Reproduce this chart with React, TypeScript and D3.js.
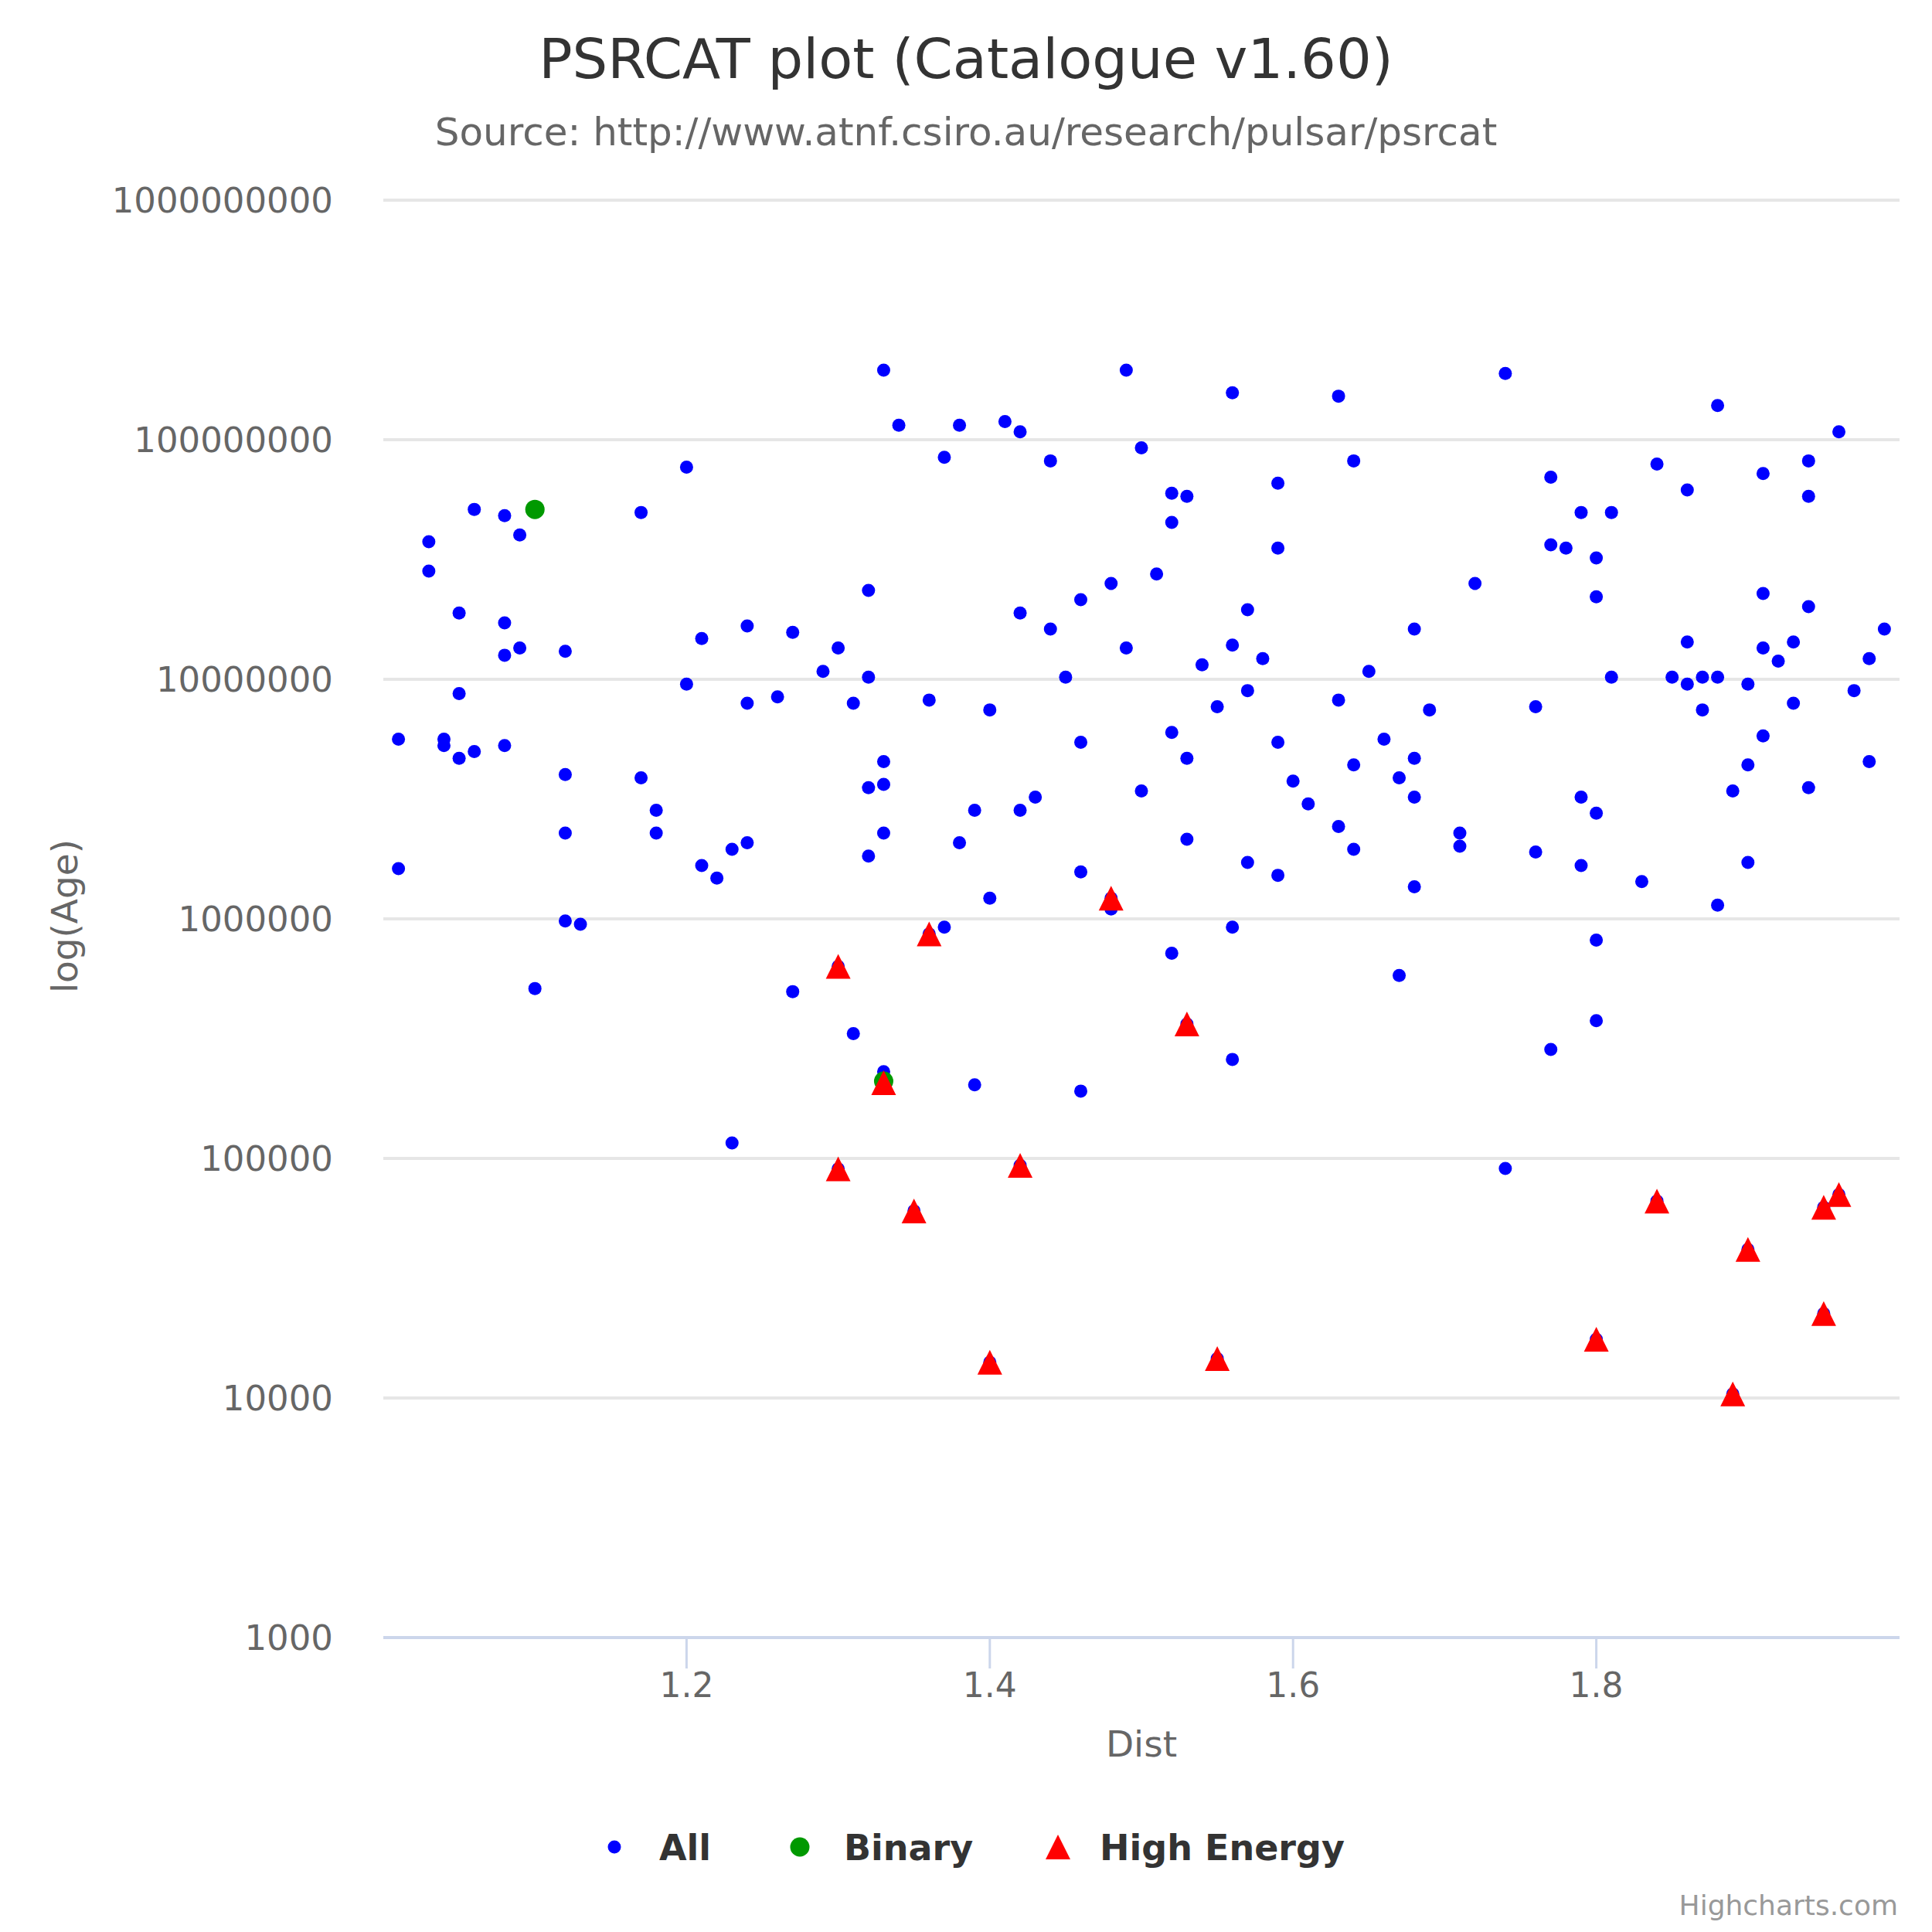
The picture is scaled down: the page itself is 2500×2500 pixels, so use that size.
import React, { useRef, useEffect } from 'react';
import * as d3 from 'd3';

// Pulsars that are neither binary nor high energy: [distance, age]
const otherPulsars: [number, number][] = [
  [1.01, 5.62e6], [1.01, 1.62e6],
  [1.03, 3.75e7], [1.03, 2.83e7],
  [1.04, 5.62e6], [1.04, 5.29e6],
  [1.05, 1.89e7], [1.05, 8.71e6], [1.05, 4.68e6],
  [1.06, 5.12e7], [1.06, 4.99e6],
  [1.08, 4.82e7], [1.08, 1.72e7], [1.08, 1.26e7], [1.08, 5.29e6],
  [1.09, 4.0e7], [1.09, 1.35e7],
  [1.10, 5.12e5],
  [1.12, 1.31e7], [1.12, 4.0e6], [1.12, 2.28e6], [1.12, 9.8e5],
  [1.13, 9.5e5],
  [1.17, 4.97e7], [1.17, 3.88e6],
  [1.18, 2.84e6], [1.18, 2.28e6],
  [1.20, 7.68e7], [1.20, 9.54e6],
  [1.21, 1.48e7], [1.21, 1.67e6],
  [1.22, 1.48e6],
  [1.23, 1.95e6], [1.23, 1.16e5],
  [1.24, 1.67e7], [1.24, 7.94e6], [1.24, 2.08e6],
  [1.26, 8.45e6],
  [1.27, 1.57e7], [1.27, 4.97e5],
  [1.29, 1.08e7],
  [1.30, 1.35e7],
  [1.31, 7.94e6], [1.31, 3.32e5],
  [1.32, 2.35e7], [1.32, 1.02e7], [1.32, 3.53e6], [1.32, 1.83e6],
  [1.33, 1.95e8], [1.33, 4.53e6], [1.33, 3.64e6], [1.33, 2.28e6], [1.33, 2.30e5],
  [1.34, 1.15e8],
  [1.36, 8.19e6],
  [1.37, 8.45e7], [1.37, 9.23e5],
  [1.38, 1.15e8], [1.38, 2.08e6],
  [1.39, 2.84e6], [1.39, 2.03e5],
  [1.40, 7.45e6], [1.40, 1.22e6],
  [1.41, 1.19e8],
  [1.42, 1.08e8], [1.42, 1.89e7], [1.42, 2.84e6],
  [1.43, 3.22e6],
  [1.44, 8.16e7], [1.44, 1.62e7],
  [1.45, 1.02e7],
  [1.46, 2.15e7], [1.46, 5.46e6], [1.46, 1.57e6], [1.46, 1.91e5],
  [1.48, 2.51e7], [1.48, 1.1e6],
  [1.49, 1.95e8], [1.49, 1.35e7],
  [1.50, 9.25e7], [1.50, 3.42e6],
  [1.51, 2.75e7],
  [1.52, 5.98e7], [1.52, 4.52e7], [1.52, 6.0e6], [1.52, 7.19e5],
  [1.53, 5.8e7], [1.53, 4.68e6], [1.53, 2.15e6],
  [1.54, 1.15e7],
  [1.55, 7.68e6],
  [1.56, 1.57e8], [1.56, 1.39e7], [1.56, 9.23e5], [1.56, 2.59e5],
  [1.57, 1.95e7], [1.57, 8.97e6], [1.57, 1.72e6],
  [1.58, 1.22e7],
  [1.59, 6.58e7], [1.59, 3.53e7], [1.59, 5.46e6], [1.59, 1.52e6],
  [1.60, 3.76e6],
  [1.61, 3.02e6],
  [1.63, 1.52e8], [1.63, 8.19e6], [1.63, 2.43e6],
  [1.64, 8.16e7], [1.64, 4.39e6], [1.64, 1.95e6],
  [1.65, 1.08e7],
  [1.66, 5.62e6],
  [1.67, 3.88e6], [1.67, 5.8e5],
  [1.68, 1.62e7], [1.68, 4.68e6], [1.68, 3.22e6], [1.68, 1.36e6],
  [1.69, 7.45e6],
  [1.71, 2.28e6], [1.71, 2.01e6],
  [1.72, 2.51e7],
  [1.74, 1.89e8], [1.74, 9.08e4],
  [1.76, 7.68e6], [1.76, 1.90e6],
  [1.77, 6.98e7], [1.77, 3.64e7], [1.77, 2.85e5],
  [1.78, 3.53e7],
  [1.79, 4.97e7], [1.79, 3.22e6], [1.79, 1.67e6],
  [1.80, 3.21e7], [1.80, 2.21e7], [1.80, 2.76e6], [1.80, 8.15e5], [1.80, 3.76e5],
  [1.81, 4.97e7], [1.81, 1.02e7],
  [1.83, 1.43e6],
  [1.84, 7.92e7],
  [1.85, 1.02e7],
  [1.86, 6.17e7], [1.86, 1.43e7], [1.86, 9.54e6],
  [1.87, 1.02e7], [1.87, 7.45e6],
  [1.88, 1.39e8], [1.88, 1.02e7], [1.88, 1.14e6],
  [1.89, 3.42e6],
  [1.90, 9.54e6], [1.90, 4.39e6], [1.90, 1.72e6],
  [1.91, 7.23e7], [1.91, 2.28e7], [1.91, 1.35e7], [1.91, 5.8e6],
  [1.92, 1.19e7],
  [1.93, 1.43e7], [1.93, 7.94e6],
  [1.94, 8.16e7], [1.94, 5.8e7], [1.94, 2.01e7], [1.94, 3.53e6],
  [1.96, 1.08e8],
  [1.97, 8.97e6],
  [1.98, 1.22e7], [1.98, 4.53e6],
  [1.99, 1.62e7],
];

const binaryPulsars: [number, number][] = [
  [1.10, 5.12e7],
  [1.33, 2.10e5],
];

const highEnergyPulsars: [number, number][] = [
  [1.30, 6.33e5], [1.30, 9.04e4],
  [1.33, 2.07e5],
  [1.35, 6.04e4],
  [1.36, 8.65e5],
  [1.40, 1.41e4],
  [1.42, 9.36e4],
  [1.48, 1.22e6],
  [1.53, 3.64e5],
  [1.55, 1.46e4],
  [1.80, 1.76e4],
  [1.84, 6.64e4],
  [1.89, 1.04e4],
  [1.90, 4.17e4],
  [1.95, 6.25e4], [1.95, 2.25e4],
  [1.96, 7.07e4],
];

// "All" holds every pulsar, the other two series are drawn over it
const allPulsars: [number, number][] = [...otherPulsars, ...binaryPulsars, ...highEnergyPulsars];

const distTicks = [1.2, 1.4, 1.6, 1.8];
const ageTicks = [1e3, 1e4, 1e5, 1e6, 1e7, 1e8, 1e9];

const WIDTH = 2500;
const HEIGHT = 2500;
const margin = { top: 259, right: 42, bottom: 381, left: 496 };
const FONT = '"DejaVu Sans", Verdana, sans-serif';

const trianglePath = (x: number, y: number, r: number) => {
  const p = d3.path();
  p.moveTo(x, y - r);
  p.lineTo(x + r, y + r);
  p.lineTo(x - r, y + r);
  p.closePath();
  return p.toString();
};

const App = () => {
  const svgRef = useRef<SVGSVGElement>(null);

  useEffect(() => {
    if (!svgRef.current) return;
    const svg = d3.select(svgRef.current);
    svg.selectAll('*').remove();

    const innerW = WIDTH - margin.left - margin.right;
    const innerH = HEIGHT - margin.top - margin.bottom;

    const x = d3.scaleLinear().domain([1.0, 2.0]).range([margin.left, margin.left + innerW]);
    const y = d3.scaleLog().domain([1e3, 1e9]).range([margin.top + innerH, margin.top]);

    svg.append('rect').attr('width', WIDTH).attr('height', HEIGHT).attr('fill', '#ffffff');

    // Title and subtitle
    svg.append('text')
      .attr('x', WIDTH / 2)
      .attr('y', 101)
      .attr('text-anchor', 'middle')
      .style('font-family', FONT)
      .style('font-size', '72px')
      .style('fill', '#333333')
      .text('PSRCAT plot (Catalogue v1.60)');

    svg.append('text')
      .attr('x', WIDTH / 2)
      .attr('y', 188)
      .attr('text-anchor', 'middle')
      .style('font-family', FONT)
      .style('font-size', '50px')
      .style('fill', '#666666')
      .text('Source: http://www.atnf.csiro.au/research/pulsar/psrcat');

    // Horizontal grid lines and y labels
    const grid = svg.append('g');
    grid.selectAll('line')
      .data(ageTicks)
      .enter()
      .append('line')
      .attr('x1', margin.left)
      .attr('x2', margin.left + innerW)
      .attr('y1', d => y(d))
      .attr('y2', d => y(d))
      .attr('stroke', '#e6e6e6')
      .attr('stroke-width', 4);

    grid.selectAll('text')
      .data(ageTicks)
      .enter()
      .append('text')
      .attr('x', 431)
      .attr('y', d => y(d) + 16)
      .attr('text-anchor', 'end')
      .style('font-family', FONT)
      .style('font-size', '45px')
      .style('fill', '#666666')
      .text(d => String(d));

    // X axis line, ticks and labels
    const xAxis = svg.append('g');
    xAxis.append('line')
      .attr('x1', margin.left)
      .attr('x2', margin.left + innerW)
      .attr('y1', margin.top + innerH)
      .attr('y2', margin.top + innerH)
      .attr('stroke', '#ccd6eb')
      .attr('stroke-width', 4);

    xAxis.selectAll('.tick')
      .data(distTicks)
      .enter()
      .append('line')
      .attr('class', 'tick')
      .attr('x1', d => x(d))
      .attr('x2', d => x(d))
      .attr('y1', margin.top + innerH)
      .attr('y2', margin.top + innerH + 40)
      .attr('stroke', '#ccd6eb')
      .attr('stroke-width', 3);

    xAxis.selectAll('.label')
      .data(distTicks)
      .enter()
      .append('text')
      .attr('class', 'label')
      .attr('x', d => x(d))
      .attr('y', 2196)
      .attr('text-anchor', 'middle')
      .style('font-family', FONT)
      .style('font-size', '44px')
      .style('fill', '#666666')
      .text(d => d3.format('.1f')(d));

    // Axis titles
    svg.append('text')
      .attr('x', margin.left + innerW / 2)
      .attr('y', 2273)
      .attr('text-anchor', 'middle')
      .style('font-family', FONT)
      .style('font-size', '47px')
      .style('fill', '#666666')
      .text('Dist');

    svg.append('text')
      .attr('transform', `translate(100, ${(252 + margin.top + innerH) / 2}) rotate(-90)`)
      .attr('text-anchor', 'middle')
      .style('font-family', FONT)
      .style('font-size', '47px')
      .style('fill', '#666666')
      .text('log(Age)');

    // Series
    svg.append('g')
      .selectAll('circle')
      .data(allPulsars)
      .enter()
      .append('circle')
      .attr('cx', d => x(d[0]))
      .attr('cy', d => y(d[1]))
      .attr('r', 8.5)
      .attr('fill', '#0000ff');

    svg.append('g')
      .selectAll('circle')
      .data(binaryPulsars)
      .enter()
      .append('circle')
      .attr('cx', d => x(d[0]))
      .attr('cy', d => y(d[1]))
      .attr('r', 12.5)
      .attr('fill', '#009900');

    svg.append('g')
      .selectAll('path')
      .data(highEnergyPulsars)
      .enter()
      .append('path')
      .attr('d', d => trianglePath(x(d[0]), y(d[1]), 16))
      .attr('fill', '#ff0000');

    // Legend
    const legendItems = [
      { name: 'All', color: '#0000ff', shape: 'circle', r: 8.5, symbolX: 795, textX: 853 },
      { name: 'Binary', color: '#009900', shape: 'circle', r: 12.5, symbolX: 1035, textX: 1092 },
      { name: 'High Energy', color: '#ff0000', shape: 'triangle', r: 16, symbolX: 1369, textX: 1423 },
    ];
    const legendY = 2390;
    const legend = svg.append('g')
      .selectAll('g')
      .data(legendItems)
      .enter()
      .append('g');

    legend.each(function (d) {
      const g = d3.select(this);
      if (d.shape === 'circle') {
        g.append('circle').attr('cx', d.symbolX).attr('cy', legendY).attr('r', d.r).attr('fill', d.color);
      } else {
        g.append('path').attr('d', trianglePath(d.symbolX, legendY, d.r)).attr('fill', d.color);
      }
      g.append('text')
        .attr('x', d.textX)
        .attr('y', legendY + 17)
        .style('font-family', FONT)
        .style('font-size', '46px')
        .style('font-weight', 'bold')
        .style('fill', '#333333')
        .text(d.name);
    });

    // Credits
    svg.append('text')
      .attr('x', 2456)
      .attr('y', 2478)
      .attr('text-anchor', 'end')
      .style('font-family', FONT)
      .style('font-size', '36px')
      .style('fill', '#999999')
      .text('Highcharts.com');
  }, []);

  return (
    <svg
      ref={svgRef}
      width={WIDTH}
      height={HEIGHT}
      style={{ position: 'absolute', left: 0, top: 0, display: 'block' }}
    />
  );
};

export default App;
